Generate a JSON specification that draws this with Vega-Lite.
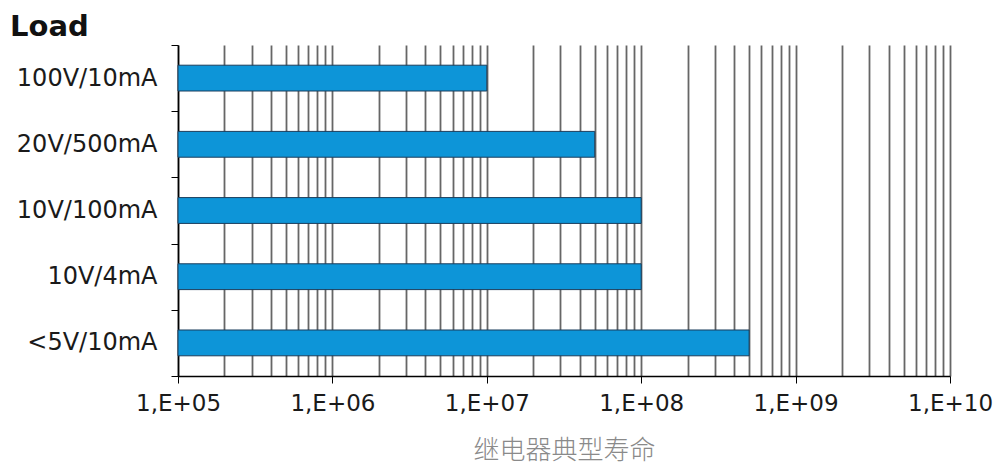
{
  "$schema": "https://vega.github.io/schema/vega-lite/v6.json",
  "width": 772,
  "height": 331,
  "autosize": {"type": "none"},
  "padding": {"left": 178, "top": 45, "right": 49, "bottom": 91},
  "background": "white",
  "title": {"text": "Load", "anchor": "start", "frame": "group", "dx": -168, "dy": 21, "fontSize": 29, "font": "DejaVu Sans", "fontWeight": "bold", "color": "#111111", "offset": 12},
  "data": {"values": [
    {"load": "100V/10mA", "cycles": 10000000},
    {"load": "20V/500mA", "cycles": 50000000},
    {"load": "10V/100mA", "cycles": 100000000},
    {"load": "10V/4mA", "cycles": 100000000},
    {"load": "<5V/10mA", "cycles": 500000000}
  ]},
  "mark": {"type": "bar", "color": "#0d95d8", "stroke": "#1b3d5c", "strokeWidth": 1, "height": {"band": 0.39}},
  "encoding": {
    "y": {
      "field": "load", "type": "nominal", "sort": null,
      "scale": {"paddingInner": 0, "paddingOuter": 0},
      "axis": {"title": null, "domainColor": "#000000", "domainWidth": 1.5, "tickColor": "#000000", "tickSize": 7, "tickBand": "extent", "labelFont": "DejaVu Sans", "labelFontSize": 24, "labelColor": "#1a1a1a", "labelPadding": 14, "grid": false}
    },
    "x": {
      "field": "cycles", "type": "quantitative",
      "scale": {"type": "log", "domain": [100000, 10000000000], "nice": false},
      "axis": {
        "values": [100000,200000,300000,400000,500000,600000,700000,800000,900000,
                   1000000,2000000,3000000,4000000,5000000,6000000,7000000,8000000,9000000,
                   10000000,20000000,30000000,40000000,50000000,60000000,70000000,80000000,90000000,
                   100000000,200000000,300000000,400000000,500000000,600000000,700000000,800000000,900000000,
                   1000000000,2000000000,3000000000,4000000000,5000000000,6000000000,7000000000,8000000000,9000000000,
                   10000000000],
        "title": "继电器典型寿命",
        "titleFont": "Noto Sans CJK SC", "titleFontSize": 26, "titleFontWeight": 300, "titleColor": "#8a8a8a", "titlePadding": 22,
        "labelExpr": "abs(log(datum.value)/LN10 - round(log(datum.value)/LN10)) < 0.001 ? '1,E+' + (round(log(datum.value)/LN10) < 10 ? '0' : '') + round(log(datum.value)/LN10) : ''",
        "labelFont": "DejaVu Sans", "labelFontSize": 23, "labelColor": "#1a1a1a", "labelPadding": 9,
        "labelOverlap": false, "labelFlush": false, "labelBound": false,
        "tickSize": 7, "tickColor": "#000000",
        "tickOpacity": {"condition": {"test": "abs(log(datum.value)/LN10 - round(log(datum.value)/LN10)) < 0.001", "value": 1}, "value": 0},
        "grid": true, "gridColor": "#666666", "gridWidth": 1.8,
        "domainColor": "#000000", "domainWidth": 1.5
      }
    },
    "x2": {"datum": 100000}
  },
  "config": {"view": {"stroke": null}}
}
